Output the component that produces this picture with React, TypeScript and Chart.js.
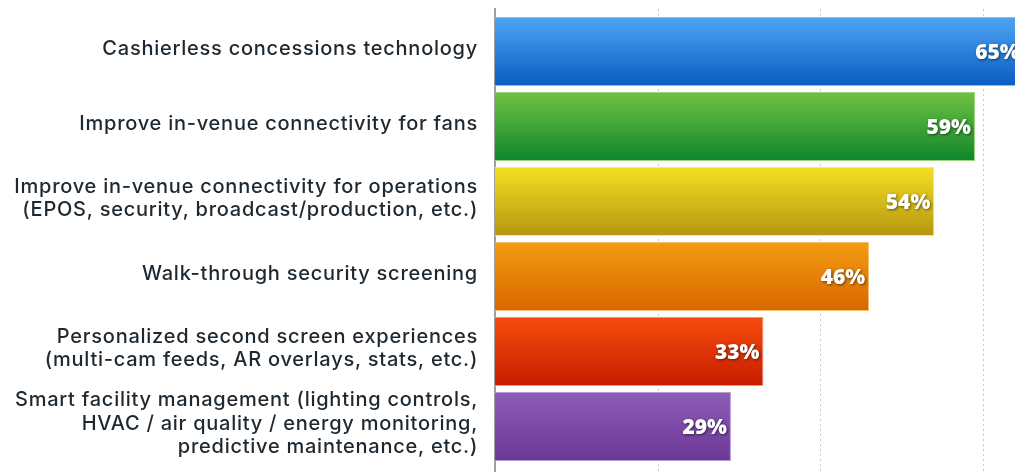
import React, { useEffect, useRef } from "react";
import { Chart, registerables } from "chart.js";

Chart.register(...registerables);

const categories: string[][] = [
  ["Cashierless concessions technology"],
  ["Improve in-venue connectivity for fans"],
  ["Improve in-venue connectivity for operations", "(EPOS, security, broadcast/production, etc.)"],
  ["Walk-through security screening"],
  ["Personalized second screen experiences", "(multi-cam feeds, AR overlays, stats, etc.)"],
  ["Smart facility management (lighting controls,", "HVAC / air quality / energy monitoring,", "predictive maintenance, etc.)"],
];
const values: number[] = [65, 59, 54, 46, 33, 29];
const gridTicks: number[] = [20, 40, 60];
const topColors: string[] = ["#4ea5f4", "#6fc241", "#f6df24", "#f49c10", "#f74c0e", "#8d5db7"];
const bottomColors: string[] = ["#0a5cc2", "#0e862c", "#b5960f", "#d86600", "#c51d00", "#6b3896"];
const edgeColors: string[] = ["#7fbff7", "#9ad47a", "#f7e97a", "#f7c070", "#f9906a", "#b89ad4"];

const BAR_PCT = 0.92;

const gridPlugin = {
  id: "extGrid",
  beforeDraw(chart: any) {
    chart.ctx.letterSpacing = "0.75px";
  },
  beforeDatasetsDraw(chart: any) {
    const { ctx } = chart;
    const x = chart.scales.x;
    const h = chart.height;
    ctx.save();
    ctx.strokeStyle = "#c9c9c9";
    ctx.lineWidth = 1;
    ctx.setLineDash([2, 3]);
    gridTicks.forEach((t) => {
      const px = Math.round(x.getPixelForValue(t)) + 0.5;
      ctx.beginPath();
      ctx.moveTo(px, 9);
      ctx.lineTo(px, h);
      ctx.stroke();
    });
    ctx.setLineDash([]);
    ctx.strokeStyle = "#808080";
    ctx.lineWidth = 1.5;
    const ax = x.getPixelForValue(0);
    ctx.beginPath();
    ctx.moveTo(ax, 8);
    ctx.lineTo(ax, h);
    ctx.stroke();
    ctx.restore();
  },
};

const valuePlugin = {
  id: "valueLabels",
  afterDatasetsDraw(chart: any) {
    const { ctx } = chart;
    const meta = chart.getDatasetMeta(0);
    ctx.save();
    ctx.letterSpacing = "0px";
    ctx.font = "800 21px 'Open Sans'";
    ctx.textAlign = "right";
    ctx.textBaseline = "middle";
    ctx.fillStyle = "#ffffff";
    ctx.shadowColor = "rgba(0,0,0,0.55)";
    ctx.shadowBlur = 3;
    ctx.shadowOffsetX = 1;
    ctx.shadowOffsetY = 1;
    meta.data.forEach((el: any, i: number) => {
      ctx.fillText(values[i] + "%", el.x - 4, el.y + 2);
    });
    ctx.restore();
  },
};

export default function App() {
  const ref = useRef<HTMLCanvasElement | null>(null);
  useEffect(() => {
    if (!ref.current) return;
    const chart = new Chart(ref.current, {
      type: "bar",
      data: {
        labels: categories,
        datasets: [
          {
            data: values,
            backgroundColor: (c: any) => {
              const ch = c.chart;
              const ys = ch.scales && ch.scales.y;
              if (!ch.chartArea || !ys || c.dataIndex === undefined) return topColors[c.dataIndex || 0];
              const band = ys.height / categories.length;
              const y = ys.getPixelForValue(c.dataIndex);
              const hh = (band * BAR_PCT) / 2;
              const g = ch.ctx.createLinearGradient(0, y - hh, 0, y + hh);
              g.addColorStop(0, topColors[c.dataIndex]);
              g.addColorStop(1, bottomColors[c.dataIndex]);
              return g;
            },
            borderColor: edgeColors,
            borderWidth: 1,
            borderSkipped: "start",
            barPercentage: BAR_PCT,
            categoryPercentage: 1,
          },
        ],
      },
      options: {
        indexAxis: "y",
        animation: false,
        responsive: true,
        maintainAspectRatio: false,
        layout: { padding: { top: 14, bottom: 8, left: 0, right: 0 } },
        plugins: { legend: { display: false }, tooltip: { enabled: false } },
        scales: {
          x: { display: false, min: 0, max: 63.92 },
          y: {
            grid: { display: false, drawTicks: false },
            border: { display: false },
            afterFit: (s: any) => {
              s.width = 495;
              s.paddingTop = 0;
              s.paddingBottom = 0;
            },
            ticks: {
              autoSkip: false,
              color: "#1e2830",
              padding: 17,
              labelOffset: -3,
              font: { family: "Inter", size: 20, weight: 500, lineHeight: 1.18 },
            },
          },
        },
      },
      plugins: [gridPlugin, valuePlugin],
    });
    return () => chart.destroy();
  }, []);
  return (
    <div style={{ position: "fixed", left: 0, top: 0, width: 1015, height: 472, background: "#fff" }}>
      <canvas ref={ref} />
    </div>
  );
}
